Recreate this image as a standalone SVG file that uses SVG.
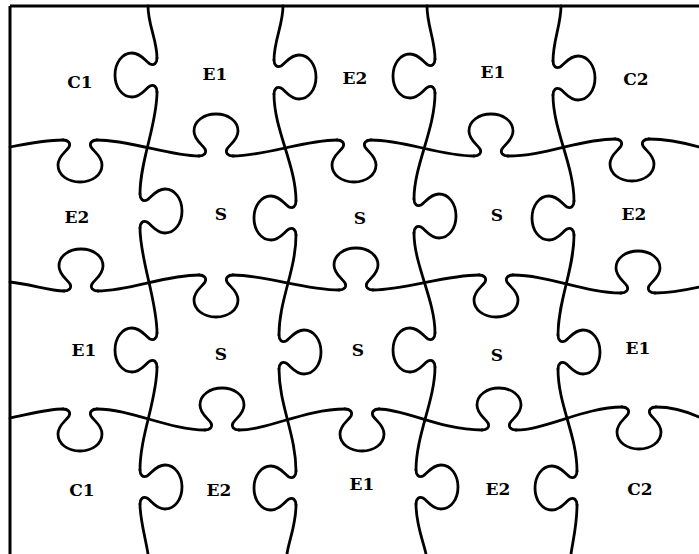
<svg xmlns="http://www.w3.org/2000/svg" xmlns:xlink="http://www.w3.org/1999/xlink" width="699" height="554" viewBox="0 0 699 554">
<style>
.cut{fill:none;stroke:#000;stroke-width:2.8;stroke-linecap:round;stroke-linejoin:round}
.border{fill:none;stroke:#000;stroke-width:3}
.lbl{font-family:"DejaVu Serif","Liberation Mono",serif;font-weight:bold;font-size:17px;fill:#000;text-anchor:middle}
</style>
<defs>
<path id="knob" class="cut" d="M -17,0 C -12,0 -9,-3 -11,-7 C -14,-12 -22,-16 -22,-25 C -22,-35 -12,-42 0,-42 C 12,-42 22,-35 22,-25 C 22,-16 14,-12 11,-7 C 9,-3 12,0 17,0"/>
</defs>
<rect width="699" height="554" fill="#fff"/>
<g id="border">
<path class="border" d="M10,6 H699 M10,6 V554"/>
</g>
<g id="cuts">
<g id="h1">
<path class="cut" d="M10,147 C30,143 50,140 63,140 M97,140 C130,140 170,156 199,156 M233,156 C265,156 305,140 337,140 M371,140 C405,140 440,156 474,156 M508,156 C545,156 580,139 615,139 M649,139 C665,139 685,143 699,147"/>
<use xlink:href="#knob" transform="translate(80,140) rotate(180)"/>
<use xlink:href="#knob" transform="translate(216,156)"/>
<use xlink:href="#knob" transform="translate(354,140) rotate(180)"/>
<use xlink:href="#knob" transform="translate(491,156)"/>
<use xlink:href="#knob" transform="translate(632,139) rotate(180)"/>
</g>
<g id="h2">
<path class="cut" d="M10,282 C30,284 50,291 64,291 M98,291 C130,291 165,275 199,275 M233,275 C265,275 305,290 339,290 M373,290 C405,290 445,275 479,275 M513,275 C548,275 585,293 621,293 M655,293 C670,293 685,290 699,287"/>
<use xlink:href="#knob" transform="translate(81,291)"/>
<use xlink:href="#knob" transform="translate(216,275) rotate(180)"/>
<use xlink:href="#knob" transform="translate(356,290)"/>
<use xlink:href="#knob" transform="translate(496,275) rotate(180)"/>
<use xlink:href="#knob" transform="translate(638,293)"/>
</g>
<g id="h3">
<path class="cut" d="M10,418 C30,414 48,409 63,409 M97,409 C130,409 170,430 205,430 M239,430 C268,430 305,409 345,409 M379,409 C405,409 440,430 482,430 M516,430 C545,430 585,407 622,407 M656,407 C672,407 688,412 699,417"/>
<use xlink:href="#knob" transform="translate(80,409) rotate(180)"/>
<use xlink:href="#knob" transform="translate(222,430)"/>
<use xlink:href="#knob" transform="translate(362,409) rotate(180)"/>
<use xlink:href="#knob" transform="translate(499,430)"/>
<use xlink:href="#knob" transform="translate(639,407) rotate(180)"/>
</g>
<g id="v1">
<path class="cut" d="M148,6 C148,25 157,40 157,58 M157,92 C157,125 140,160 140,194 M140,228 C140,260 157,300 157,333 M157,367 C157,400 140,435 140,470 M140,504 C140,520 146,540 148,554"/>
<use xlink:href="#knob" transform="translate(157,75) rotate(-90)"/>
<use xlink:href="#knob" transform="translate(140,211) rotate(90)"/>
<use xlink:href="#knob" transform="translate(157,350) rotate(-90)"/>
<use xlink:href="#knob" transform="translate(140,487) rotate(90)"/>
</g>
<g id="v2">
<path class="cut" d="M283,6 C283,25 274,40 274,60 M274,94 C274,130 296,165 296,201 M296,235 C296,270 279,300 279,335 M279,369 C279,405 296,435 296,471 M296,505 C296,525 289,540 287,554"/>
<use xlink:href="#knob" transform="translate(274,77) rotate(90)"/>
<use xlink:href="#knob" transform="translate(296,218) rotate(-90)"/>
<use xlink:href="#knob" transform="translate(279,352) rotate(90)"/>
<use xlink:href="#knob" transform="translate(296,488) rotate(-90)"/>
</g>
<g id="v3">
<path class="cut" d="M427,6 C427,25 435,40 435,59 M435,93 C435,130 414,165 414,199 M414,233 C414,265 435,300 435,333 M435,367 C435,400 416,435 416,470 M416,504 C416,525 423,540 426,554"/>
<use xlink:href="#knob" transform="translate(435,76) rotate(-90)"/>
<use xlink:href="#knob" transform="translate(414,216) rotate(90)"/>
<use xlink:href="#knob" transform="translate(435,350) rotate(-90)"/>
<use xlink:href="#knob" transform="translate(416,487) rotate(90)"/>
</g>
<g id="v4">
<path class="cut" d="M561,6 C561,25 553,40 553,61 M553,95 C553,130 574,165 574,201 M574,235 C574,270 558,300 558,335 M558,369 C558,405 577,435 577,471 M577,505 C577,525 573,540 571,554"/>
<use xlink:href="#knob" transform="translate(553,78) rotate(90)"/>
<use xlink:href="#knob" transform="translate(574,218) rotate(-90)"/>
<use xlink:href="#knob" transform="translate(558,352) rotate(90)"/>
<use xlink:href="#knob" transform="translate(577,488) rotate(-90)"/>
</g>
</g>
<g id="labels">
<g id="piece-r1c1"><text class="lbl" x="80" y="88">C1</text></g>
<g id="piece-r1c2"><text class="lbl" x="215" y="80">E1</text></g>
<g id="piece-r1c3"><text class="lbl" x="355" y="84">E2</text></g>
<g id="piece-r1c4"><text class="lbl" x="493" y="78">E1</text></g>
<g id="piece-r1c5"><text class="lbl" x="636" y="85">C2</text></g>
<g id="piece-r2c1"><text class="lbl" x="77" y="223">E2</text></g>
<g id="piece-r2c2"><text class="lbl" x="221" y="220">S</text></g>
<g id="piece-r2c3"><text class="lbl" x="360" y="224">S</text></g>
<g id="piece-r2c4"><text class="lbl" x="497" y="221">S</text></g>
<g id="piece-r2c5"><text class="lbl" x="634" y="220">E2</text></g>
<g id="piece-r3c1"><text class="lbl" x="84" y="356">E1</text></g>
<g id="piece-r3c2"><text class="lbl" x="221" y="360">S</text></g>
<g id="piece-r3c3"><text class="lbl" x="358" y="356">S</text></g>
<g id="piece-r3c4"><text class="lbl" x="497" y="361">S</text></g>
<g id="piece-r3c5"><text class="lbl" x="638" y="354">E1</text></g>
<g id="piece-r4c1"><text class="lbl" x="82" y="496">C1</text></g>
<g id="piece-r4c2"><text class="lbl" x="219" y="496">E2</text></g>
<g id="piece-r4c3"><text class="lbl" x="362" y="490">E1</text></g>
<g id="piece-r4c4"><text class="lbl" x="498" y="495">E2</text></g>
<g id="piece-r4c5"><text class="lbl" x="640" y="495">C2</text></g>
</g>
</svg>
